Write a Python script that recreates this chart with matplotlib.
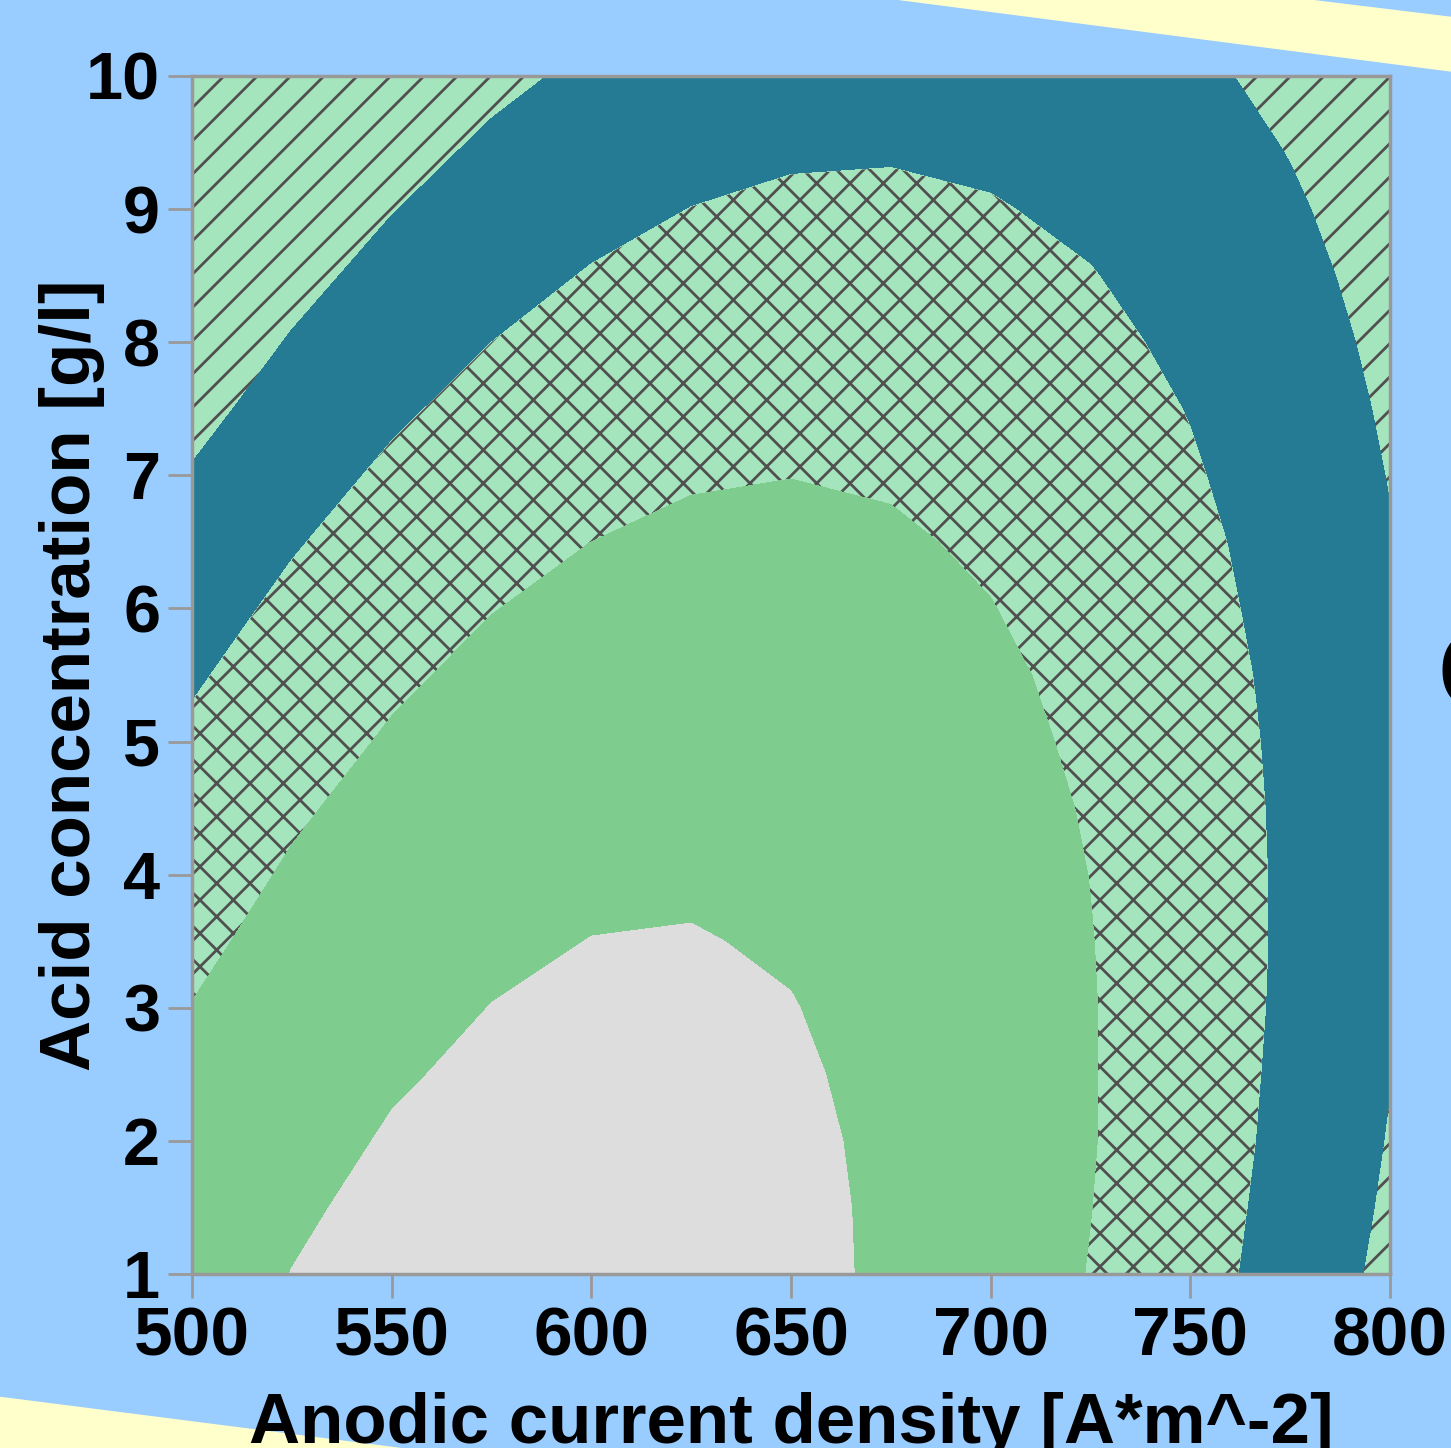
import numpy as np
import matplotlib
matplotlib.use('Agg')
import matplotlib.pyplot as plt
from matplotlib.patches import Polygon

# response surface values (rows: acid concentration, cols: current density)
current_density = [500, 525, 550, 575, 600, 625, 650, 675, 700, 725, 750, 775, 800]
acid_conc = [1.0, 1.5, 2.0, 2.5, 3.0, 3.5, 4.0, 4.5, 5.0, 5.5, 6.0, 6.5, 7.0, 7.5, 8.0, 8.5, 9.0, 9.5, 10.0]
response = [
    [3.65, 4.01, 4.27, 4.41, 4.45, 4.37, 4.19, 3.89, 3.49, 2.97, 2.35, 1.62, 0.77],
    [3.51, 3.90, 4.17, 4.33, 4.39, 4.33, 4.17, 3.89, 3.51, 3.01, 2.41, 1.69, 0.87],
    [3.36, 3.76, 4.06, 4.24, 4.31, 4.28, 4.13, 3.88, 3.51, 3.04, 2.45, 1.76, 0.95],
    [3.20, 3.62, 3.93, 4.13, 4.23, 4.21, 4.08, 3.85, 3.50, 3.04, 2.48, 1.80, 1.02],
    [3.02, 3.46, 3.79, 4.01, 4.12, 4.13, 4.02, 3.80, 3.48, 3.04, 2.49, 1.84, 1.07],
    [2.82, 3.28, 3.64, 3.88, 4.01, 4.03, 3.94, 3.74, 3.44, 3.02, 2.49, 1.86, 1.11],
    [2.61, 3.09, 3.47, 3.73, 3.88, 3.92, 3.85, 3.67, 3.38, 2.99, 2.48, 1.86, 1.13],
    [2.39, 2.89, 3.28, 3.56, 3.73, 3.79, 3.74, 3.58, 3.32, 2.94, 2.45, 1.85, 1.14],
    [2.15, 2.67, 3.08, 3.38, 3.57, 3.65, 3.62, 3.48, 3.23, 2.87, 2.40, 1.83, 1.14],
    [1.90, 2.44, 2.87, 3.19, 3.40, 3.50, 3.49, 3.37, 3.14, 2.80, 2.35, 1.79, 1.12],
    [1.64, 2.19, 2.64, 2.98, 3.21, 3.33, 3.34, 3.24, 3.02, 2.70, 2.27, 1.73, 1.08],
    [1.35, 1.93, 2.40, 2.76, 3.00, 3.14, 3.17, 3.09, 2.90, 2.60, 2.19, 1.67, 1.04],
    [1.06, 1.66, 2.14, 2.52, 2.79, 2.94, 2.99, 2.93, 2.76, 2.48, 2.08, 1.58, 0.97],
    [0.75, 1.36, 1.87, 2.27, 2.55, 2.73, 2.80, 2.76, 2.60, 2.34, 1.97, 1.49, 0.89],
    [0.42, 1.06, 1.59, 2.00, 2.31, 2.50, 2.59, 2.57, 2.43, 2.19, 1.84, 1.38, 0.80],
    [0.09, 0.74, 1.29, 1.72, 2.05, 2.26, 2.37, 2.36, 2.25, 2.03, 1.69, 1.25, 0.70],
    [-0.27, 0.41, 0.97, 1.43, 1.77, 2.01, 2.13, 2.15, 2.05, 1.85, 1.53, 1.11, 0.58],
    [-0.64, 0.06, 0.64, 1.12, 1.48, 1.73, 1.88, 1.91, 1.84, 1.65, 1.36, 0.95, 0.44],
    [-1.02, -0.31, 0.30, 0.79, 1.17, 1.45, 1.61, 1.67, 1.61, 1.45, 1.17, 0.78, 0.29],
]
levels = [-50, 1, 2, 3, 4, 50]
fill_colors = ['#A5E5BD', '#257B94', '#A5E5BD', '#7ECC8E', '#DDDDDD']
fill_hatches = ['/', None, 'x', None, None]
x_ticks = [500, 550, 600, 650, 700, 750, 800]
y_ticks = [1, 2, 3, 4, 5, 6, 7, 8, 9, 10]

plt.rcParams['font.family'] = ['Liberation Sans', 'DejaVu Sans']
plt.rcParams['hatch.color'] = '#505050'
plt.rcParams['hatch.linewidth'] = 2.0

W, H = 1451, 1448
fig = plt.figure(figsize=(W / 100, H / 100), dpi=100, facecolor='#99CCFF')


def px(x, y):
    # pixel position (from top-left) -> figure fraction
    return (x / W, 1 - y / H)


# yellow slide background showing past the tilted blue panel
fig.add_artist(Polygon([px(898, 0), px(1314, 0), px(1451, 16.7), px(1451, 71.7)], closed=True,
                       transform=fig.transFigure, facecolor='#FFFFCC', edgecolor='none', zorder=-1))
fig.add_artist(Polygon([px(0, 1396.7), px(402, 1448), px(0, 1448)], closed=True,
                       transform=fig.transFigure, facecolor='#FFFFCC', edgecolor='none', zorder=-1))

ax = fig.add_axes([192 / W, 1 - 1274 / H, (1390 - 192) / W, (1274 - 76) / H])
ax.contourf(current_density, acid_conc, np.array(response), levels=levels,
            colors=fill_colors, hatches=fill_hatches)
ax.set_xlim(500, 800)
ax.set_ylim(1, 10)
ax.set_xticks(x_ticks)
ax.set_yticks(y_ticks)
ax.tick_params(direction='out', length=17, width=2, color='#999999', pad=6)
ax.tick_params(axis='x', labelsize=50)
ax.tick_params(axis='y', labelsize=48)
for lab in ax.get_xticklabels() + ax.get_yticklabels():
    lab.set_fontweight('bold')
for s in ax.spines.values():
    s.set_color('#999999')
    s.set_linewidth(2.5)

ax.set_xlabel('Anodic current density [A*m^-2]', fontsize=51, fontweight='bold')
ax.xaxis.set_label_coords(0.5, (1274 - 1443) / 1198)
ax.xaxis.label.set_verticalalignment('baseline')
ax.set_ylabel('Acid concentration [g/l]', fontsize=51, fontweight='bold')
ax.yaxis.set_label_coords((90 - 192) / 1198, 0.5)
ax.yaxis.label.set_verticalalignment('baseline')

# edge of a letter from the slide next to the chart
fig.text(1437 / W, 1 - 680 / H, 'C', fontsize=80, fontweight='bold', ha='left', va='center')

fig.savefig('out.png', dpi=100, facecolor=fig.get_facecolor())
